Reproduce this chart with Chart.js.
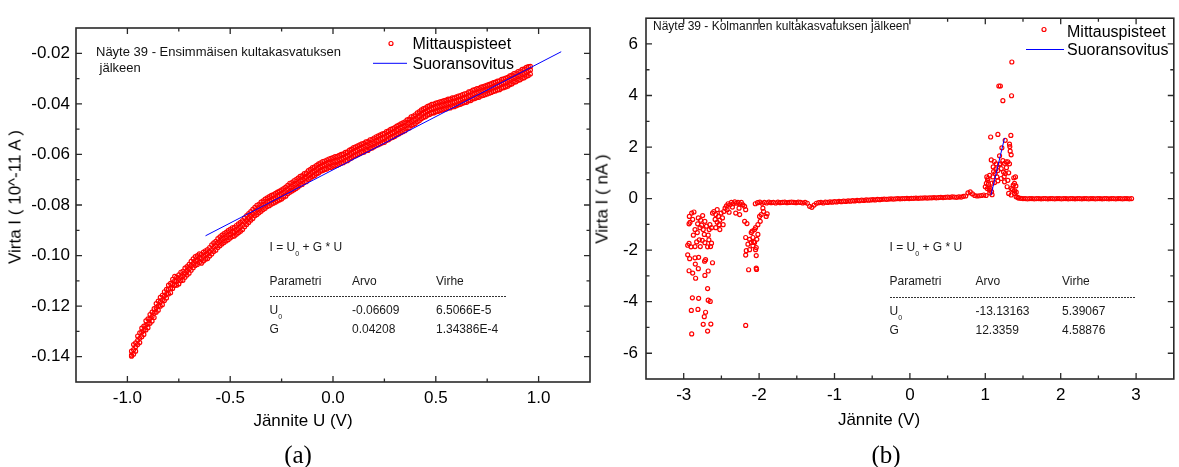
<!DOCTYPE html>
<html lang="fi">
<head>
<meta charset="utf-8">
<title>Virta–jännite -mittaukset</title>
<script src="https://cdn.jsdelivr.net/npm/chart.js@4.4.1/dist/chart.umd.min.js"></script>
<style>
  html,body{margin:0;padding:0;background:#fff;}
  body{position:relative;width:1179px;height:467px;overflow:hidden;font-family:"Liberation Sans",Arial,sans-serif;color:#000;}
  canvas{position:absolute;top:0;}
  #ca{left:0;}
  #cb{left:600px;}
  .t{position:absolute;white-space:nowrap;line-height:1;}
  .c{transform:translate(-50%,-50%);}
  .v{transform:translate(-50%,-50%) rotate(-90deg);}
  .ax{font-size:17px;}
  .cap{font-family:"Liberation Serif",serif;font-size:25px;}
  .fit{font-size:12px;color:#1a1a1a;transform:translateY(-50%);}
  .fit sub{font-size:7px;vertical-align:-5px;line-height:0;}
  .dash{position:absolute;height:1px;background:repeating-linear-gradient(to right,#333 0 2px,transparent 2px 3px);}
  .note{position:absolute;white-space:nowrap;color:#111;}
</style>
</head>
<body>
<canvas id="ca" width="600" height="467"></canvas>
<canvas id="cb" width="579" height="467"></canvas>

<div class="t ax c" style="left:303px;top:420px">Jännite U (V)</div>
<div class="t ax v" style="left:15px;top:197px">Virta I ( 10^-11 A )</div>
<div class="t ax c" style="left:879px;top:419px">Jännite (V)</div>
<div class="t ax v" style="left:602px;top:199px">Virta I ( nA )</div>
<div class="t cap c" style="left:298px;top:454px">(a)</div>
<div class="t cap c" style="left:886px;top:454px">(b)</div>

<div class="note" style="left:96px;top:44px;font-size:13px;line-height:16px">Näyte 39 - Ensimmäisen kultakasvatuksen<br>&nbsp;jälkeen</div>
<div class="note" style="left:653px;top:19px;font-size:12px;line-height:14px">Näyte 39 - Kolmannen kultakasvatuksen jälkeen</div>

<div id="fitA"></div>
<div id="fitB"></div>

<script>
// ---- Panel (a): first gold growth ----
const uA = [
  -0.98,-0.97,-0.96,-0.95,-0.94,-0.93,-0.92,-0.91,-0.90,-0.89,
  -0.88,-0.87,-0.86,-0.85,-0.84,-0.83,-0.82,-0.81,-0.80,-0.79,
  -0.78,-0.77,-0.76,-0.75,-0.74,-0.73,-0.72,-0.71,-0.70,-0.69,
  -0.68,-0.67,-0.66,-0.65,-0.64,-0.63,-0.62,-0.61,-0.60,-0.59,
  -0.58,-0.57,-0.56,-0.55,-0.54,-0.53,-0.52,-0.51,-0.50,-0.49,
  -0.48,-0.47,-0.46,-0.45,-0.44,-0.43,-0.42,-0.41,-0.40,-0.39,
  -0.38,-0.37,-0.36,-0.35,-0.34,-0.33,-0.32,-0.31,-0.30,-0.29,
  -0.28,-0.27,-0.26,-0.25,-0.24,-0.23,-0.22,-0.21,-0.20,-0.19,
  -0.18,-0.17,-0.16,-0.15,-0.14,-0.13,-0.12,-0.11,-0.10,-0.09,
  -0.08,-0.07,-0.06,-0.05,-0.04,-0.03,-0.02,-0.01,0.00,0.01,
  0.02,0.03,0.04,0.05,0.06,0.07,0.08,0.09,0.10,0.11,
  0.12,0.13,0.14,0.15,0.16,0.17,0.18,0.19,0.20,0.21,
  0.22,0.23,0.24,0.25,0.26,0.27,0.28,0.29,0.30,0.31,
  0.32,0.33,0.34,0.35,0.36,0.37,0.38,0.39,0.40,0.41,
  0.42,0.43,0.44,0.45,0.46,0.47,0.48,0.49,0.50,0.51,
  0.52,0.53,0.54,0.55,0.56,0.57,0.58,0.59,0.60,0.61,
  0.62,0.63,0.64,0.65,0.66,0.67,0.68,0.69,0.70,0.71,
  0.72,0.73,0.74,0.75,0.76,0.77,0.78,0.79,0.80,0.81,
  0.82,0.83,0.84,0.85,0.86,0.87,0.88,0.89,0.90,0.91,
  0.92,0.93,0.94,0.95,0.96
];
// middle of the measured band
const iA = [
  -0.1394,-0.1372,-0.1361,-0.1335,-0.1327,-0.1303,-0.1296,-0.1276,-0.1270,-0.1249,
  -0.1241,-0.1228,-0.1206,-0.1199,-0.1183,-0.1176,-0.1160,-0.1152,-0.1134,-0.1130,
  -0.1112,-0.1100,-0.1101,-0.1094,-0.1083,-0.1081,-0.1068,-0.1060,-0.1053,-0.1040,
  -0.1031,-0.1021,-0.1018,-0.1010,-0.1012,-0.1003,-0.0998,-0.0994,-0.0985,-0.0976,
  -0.0967,-0.0962,-0.0950,-0.0944,-0.0936,-0.0931,-0.0925,-0.0919,-0.0914,-0.0907,
  -0.0906,-0.0898,-0.0893,-0.0886,-0.0880,-0.0868,-0.0860,-0.0851,-0.0843,-0.0835,
  -0.0826,-0.0820,-0.0814,-0.0807,-0.0801,-0.0795,-0.0789,-0.0785,-0.0780,-0.0776,
  -0.0772,-0.0766,-0.0763,-0.0758,-0.0752,-0.0747,-0.0739,-0.0732,-0.0728,-0.0722,
  -0.0718,-0.0711,-0.0705,-0.0701,-0.0694,-0.0690,-0.0682,-0.0676,-0.0670,-0.0666,
  -0.0660,-0.0655,-0.0650,-0.0646,-0.0643,-0.0640,-0.0635,-0.0634,-0.0630,-0.0627,
  -0.0626,-0.0621,-0.0618,-0.0615,-0.0610,-0.0607,-0.0601,-0.0596,-0.0591,-0.0587,
  -0.0584,-0.0579,-0.0576,-0.0573,-0.0568,-0.0566,-0.0560,-0.0557,-0.0553,-0.0547,
  -0.0545,-0.0540,-0.0537,-0.0534,-0.0528,-0.0524,-0.0519,-0.0515,-0.0512,-0.0505,
  -0.0502,-0.0496,-0.0493,-0.0488,-0.0481,-0.0477,-0.0469,-0.0465,-0.0461,-0.0453,
  -0.0449,-0.0441,-0.0437,-0.0433,-0.0428,-0.0424,-0.0420,-0.0418,-0.0415,-0.0412,
  -0.0410,-0.0407,-0.0405,-0.0402,-0.0399,-0.0398,-0.0394,-0.0393,-0.0390,-0.0386,
  -0.0385,-0.0380,-0.0378,-0.0376,-0.0371,-0.0369,-0.0364,-0.0361,-0.0358,-0.0356,
  -0.0352,-0.0349,-0.0347,-0.0343,-0.0341,-0.0337,-0.0334,-0.0331,-0.0328,-0.0326,
  -0.0321,-0.0318,-0.0316,-0.0312,-0.0307,-0.0303,-0.0298,-0.0295,-0.0290,-0.0287,
  -0.0282,-0.0279,-0.0274,-0.0270,-0.0266
];
// upper readings of the band
const iAup = [
  -0.1378,-0.1352,-0.1345,-0.1318,-0.1306,-0.1287,-0.1279,-0.1258,-0.1250,-0.1233,
  -0.1224,-0.1210,-0.1190,-0.1180,-0.1165,-0.1157,-0.1143,-0.1134,-0.1117,-0.1110,
  -0.1094,-0.1082,-0.1085,-0.1076,-0.1066,-0.1062,-0.1050,-0.1044,-0.1035,-0.1023,
  -0.1013,-0.1004,-0.1000,-0.0993,-0.0995,-0.0986,-0.0981,-0.0976,-0.0968,-0.0958,
  -0.0950,-0.0944,-0.0933,-0.0926,-0.0919,-0.0913,-0.0908,-0.0901,-0.0896,-0.0890,
  -0.0888,-0.0881,-0.0875,-0.0869,-0.0862,-0.0851,-0.0842,-0.0834,-0.0826,-0.0817,
  -0.0809,-0.0801,-0.0797,-0.0789,-0.0784,-0.0777,-0.0772,-0.0767,-0.0762,-0.0759,
  -0.0754,-0.0749,-0.0745,-0.0740,-0.0735,-0.0729,-0.0722,-0.0714,-0.0711,-0.0704,
  -0.0700,-0.0694,-0.0687,-0.0684,-0.0676,-0.0673,-0.0664,-0.0659,-0.0652,-0.0649,
  -0.0643,-0.0637,-0.0633,-0.0628,-0.0626,-0.0622,-0.0618,-0.0616,-0.0613,-0.0609,
  -0.0608,-0.0604,-0.0600,-0.0598,-0.0592,-0.0590,-0.0583,-0.0579,-0.0573,-0.0570,
  -0.0566,-0.0562,-0.0558,-0.0556,-0.0550,-0.0549,-0.0542,-0.0540,-0.0535,-0.0530,
  -0.0527,-0.0523,-0.0519,-0.0517,-0.0510,-0.0507,-0.0501,-0.0498,-0.0494,-0.0488,
  -0.0484,-0.0479,-0.0475,-0.0471,-0.0463,-0.0460,-0.0451,-0.0448,-0.0443,-0.0436,
  -0.0431,-0.0424,-0.0419,-0.0416,-0.0410,-0.0407,-0.0402,-0.0401,-0.0397,-0.0395,
  -0.0392,-0.0390,-0.0387,-0.0385,-0.0381,-0.0381,-0.0376,-0.0376,-0.0372,-0.0369,
  -0.0367,-0.0363,-0.0360,-0.0359,-0.0353,-0.0352,-0.0346,-0.0344,-0.0340,-0.0339,
  -0.0334,-0.0332,-0.0329,-0.0326,-0.0323,-0.0320,-0.0316,-0.0314,-0.0310,-0.0309,
  -0.0303,-0.0301,-0.0298,-0.0295,-0.0289,-0.0286,-0.0280,-0.0278,-0.0272,-0.0270,
  -0.0264,-0.0262,-0.0256,-0.0253,-0.0252
];
// lower readings of the band
const iAlo = [
  -0.1398,-0.1390,-0.1378,-0.1352,-0.1344,-0.1321,-0.1312,-0.1294,-0.1285,-0.1268,
  -0.1259,-0.1245,-0.1224,-0.1216,-0.1200,-0.1194,-0.1178,-0.1168,-0.1152,-0.1147,
  -0.1130,-0.1118,-0.1117,-0.1112,-0.1100,-0.1098,-0.1086,-0.1077,-0.1070,-0.1058,
  -0.1048,-0.1039,-0.1035,-0.1027,-0.1030,-0.1021,-0.1015,-0.1012,-0.1002,-0.0994,
  -0.0984,-0.0979,-0.0968,-0.0961,-0.0954,-0.0948,-0.0942,-0.0937,-0.0931,-0.0925,
  -0.0923,-0.0916,-0.0910,-0.0904,-0.0897,-0.0886,-0.0877,-0.0869,-0.0860,-0.0853,
  -0.0843,-0.0838,-0.0831,-0.0825,-0.0818,-0.0813,-0.0806,-0.0803,-0.0797,-0.0793,
  -0.0789,-0.0784,-0.0780,-0.0776,-0.0769,-0.0765,-0.0756,-0.0750,-0.0745,-0.0740,
  -0.0735,-0.0729,-0.0722,-0.0719,-0.0711,-0.0708,-0.0699,-0.0694,-0.0687,-0.0684,
  -0.0677,-0.0673,-0.0667,-0.0664,-0.0660,-0.0658,-0.0652,-0.0652,-0.0647,-0.0645,
  -0.0643,-0.0639,-0.0635,-0.0633,-0.0627,-0.0625,-0.0618,-0.0614,-0.0608,-0.0605,
  -0.0601,-0.0597,-0.0593,-0.0591,-0.0585,-0.0584,-0.0577,-0.0575,-0.0570,-0.0565,
  -0.0562,-0.0558,-0.0554,-0.0552,-0.0545,-0.0542,-0.0536,-0.0533,-0.0529,-0.0523,
  -0.0519,-0.0514,-0.0510,-0.0506,-0.0498,-0.0495,-0.0486,-0.0483,-0.0478,-0.0471,
  -0.0466,-0.0459,-0.0454,-0.0451,-0.0445,-0.0442,-0.0437,-0.0436,-0.0432,-0.0430,
  -0.0427,-0.0425,-0.0422,-0.0420,-0.0416,-0.0416,-0.0411,-0.0411,-0.0407,-0.0404,
  -0.0402,-0.0398,-0.0395,-0.0394,-0.0388,-0.0387,-0.0381,-0.0379,-0.0375,-0.0374,
  -0.0369,-0.0367,-0.0364,-0.0361,-0.0358,-0.0355,-0.0351,-0.0349,-0.0345,-0.0344,
  -0.0338,-0.0336,-0.0333,-0.0330,-0.0324,-0.0321,-0.0315,-0.0313,-0.0307,-0.0305,
  -0.0299,-0.0297,-0.0291,-0.0288,-0.0282
];
const fitParamsA = [-0.06609, 0.04208];          // U0, G
const fitErrorsA = ['6.5066E-5', '1.34386E-4'];
const fitSpanA = [-0.62, 1.11];
const xTicksA = [-1.0, -0.5, 0.0, 0.5, 1.0];
const xMinorA = [-0.75, -0.25, 0.25, 0.75];
const yTicksA = [-0.14, -0.12, -0.10, -0.08, -0.06, -0.04, -0.02];
const yMinorA = [-0.13, -0.11, -0.09, -0.07, -0.05, -0.03];

// ---- Panel (b): third gold growth ----
const uFlatL = [
  -2.05,-2.02,-1.99,-1.96,-1.93,-1.90,-1.87,-1.84,-1.81,-1.78,
  -1.75,-1.72,-1.69,-1.66,-1.63,-1.60,-1.57,-1.54,-1.51,-1.48,
  -1.45,-1.42,-1.39,-1.36,-1.33,-1.30,-1.27,-1.24,-1.21,-1.18,
  -1.15,-1.12,-1.09,-1.06,-1.03,-1.00,-0.97,-0.94,-0.91,-0.88,
  -0.85,-0.82,-0.79,-0.76,-0.73,-0.70,-0.67,-0.64,-0.61,-0.58,
  -0.55,-0.52,-0.49,-0.46,-0.43,-0.40,-0.37,-0.34,-0.31,-0.28,
  -0.25,-0.22,-0.19,-0.16,-0.13,-0.10,-0.07,-0.04,-0.01,0.02,
  0.05,0.08,0.11,0.14,0.17,0.20,0.23,0.26,0.29,0.32,
  0.35,0.38,0.41,0.44,0.47,0.50,0.53,0.56,0.59,0.62,
  0.65,0.68,0.71,0.74,0.77,0.80,0.83,0.86,0.89,0.92,
  0.95,0.98,1.01
];
const iFlatL = [
  -0.20,-0.16,-0.14,-0.18,-0.15,-0.17,-0.14,-0.16,-0.15,-0.17,
  -0.14,-0.16,-0.15,-0.14,-0.16,-0.15,-0.14,-0.15,-0.16,-0.14,
  -0.15,-0.17,-0.15,-0.18,-0.30,-0.34,-0.25,-0.18,-0.16,-0.15,
  -0.17,-0.14,-0.15,-0.13,-0.14,-0.12,-0.13,-0.11,-0.12,-0.10,
  -0.11,-0.09,-0.10,-0.08,-0.09,-0.07,-0.08,-0.06,-0.07,-0.05,
  -0.06,-0.05,-0.04,-0.05,-0.03,-0.04,-0.03,-0.02,-0.03,-0.02,
  -0.01,-0.02,-0.01,0.00,-0.01,0.00,0.00,0.01,0.00,0.01,
  0.01,0.02,0.01,0.02,0.02,0.03,0.02,0.03,0.03,0.04,
  0.03,0.04,0.05,0.04,0.05,0.06,0.05,0.07,0.06,0.05,
  0.07,0.06,0.09,0.10,0.22,0.26,0.18,0.12,0.10,0.11,
  0.12,0.14,0.12
];
const uFlatR = [
  1.44,1.47,1.50,1.53,1.56,1.59,1.62,1.65,1.68,1.71,
  1.74,1.77,1.80,1.83,1.86,1.89,1.92,1.95,1.98,2.01,
  2.04,2.07,2.10,2.13,2.16,2.19,2.22,2.25,2.28,2.31,
  2.34,2.37,2.40,2.43,2.46,2.49,2.52,2.55,2.58,2.61,
  2.64,2.67,2.70,2.73,2.76,2.79,2.82,2.85,2.88,2.91,
  2.94
];
const iFlatR = [
  0.02,0.01,0.00,0.00,-0.01,0.00,0.00,-0.01,0.00,0.00,
  -0.01,0.00,0.00,-0.01,0.00,0.00,-0.01,0.00,0.00,-0.01,
  0.00,0.00,-0.01,0.00,0.00,-0.01,0.00,0.00,-0.01,0.00,
  0.00,-0.01,0.00,0.00,-0.01,0.00,0.00,-0.01,0.00,0.00,
  -0.01,0.00,0.00,-0.01,0.00,0.00,-0.01,0.00,0.00,-0.01,
  0.00
];
// scattered readings at the negative end
const uScat = [
  -2.894,-2.864,-2.929,-2.916,-2.749,-2.815,-2.763,-2.784,-2.850,-2.741,
  -2.820,-2.727,-2.872,-2.675,-2.793,-2.754,-2.828,-2.666,-2.631,-2.947,
  -2.929,-2.903,-2.850,-2.780,-2.719,-2.683,-2.644,-2.947,-2.921,-2.850,
  -2.802,-2.710,-2.723,-2.846,-2.618,-2.929,-2.881,-2.806,-2.675,-2.842,
  -2.719,-2.683,-2.885,-2.802,-2.675,-2.648,-2.899,-2.811,-2.710,-2.727,
  -2.741,-2.640,-2.894,-2.683,-2.925,-2.881,-2.806,-2.776,-2.719,-2.697,
  -2.653,-2.631,-2.662,
  -2.618,-2.600,-2.574,-2.556,-2.539,-2.521,-2.504,-2.530,-2.486,-2.583,
  -2.556,-2.468,-2.451,-2.433,-2.411,-2.389,-2.367,-2.345,-2.323,-2.301,
  -2.280,-2.258,-2.236,-2.214,-2.424,-2.398,-2.354,-2.310,-2.266,-2.258,
  -2.192,-2.178,-2.521,-2.477,-2.574,
  -2.192,-2.161,-2.178,-2.126,-2.104,-2.082,-2.060,-2.038,-2.038,-2.047,
  -2.082,-2.126,-2.170,-2.178,-2.139,-2.038,-2.034,-2.016,-2.016,-2.060,
  -1.994,-1.972,-1.950,-1.906,-1.893,-2.178,-2.104,-2.148,-2.073,-2.091,
  -2.030,-1.985,-1.941,-2.047
];
const iScat = [
  -0.56,-0.52,-0.98,-0.92,-0.66,-0.98,-1.03,-1.13,-1.20,-1.20,
  -1.32,-1.39,-1.42,-1.42,-1.60,-1.62,-1.68,-1.60,-1.73,-1.81,
  -1.74,-1.87,-1.86,-1.86,-1.71,-1.87,-1.86,-2.18,-2.33,-2.30,
  -2.28,-2.37,-2.43,-2.54,-2.49,-2.80,-2.89,-2.72,-2.81,-3.09,
  -2.98,-3.49,-3.85,-3.87,-3.94,-3.99,-4.34,-4.30,-4.41,-4.58,
  -4.88,-4.87,-5.25,-5.14,-0.69,-0.81,-0.75,-0.84,-0.88,-1.07,
  -1.01,-1.13,-1.20,
  -0.56,-0.50,-0.62,-0.43,-0.69,-0.84,-0.56,-1.01,-0.75,-0.81,
  -0.92,-0.50,-0.37,-0.28,-0.20,-0.24,-0.15,-0.20,-0.13,-0.18,
  -0.15,-0.20,-0.15,-0.24,-0.43,-0.53,-0.33,-0.56,-0.37,-0.62,
  -0.30,-0.43,-1.20,-1.01,-1.13,
  -0.88,-0.97,-1.51,-1.58,-1.32,-1.51,-1.70,-1.90,-2.21,-1.98,
  -1.83,-1.98,-2.02,-2.19,-2.76,-2.70,-2.75,-1.39,-1.01,-1.20,
  -0.69,-0.62,-0.37,-0.69,-0.59,-4.92,-1.70,-1.77,-1.68,-1.26,
  -1.58,-0.88,-0.50,-1.13
];
// readings around the peak near +1.2 V
const uPeak = [
  1.180,1.200,1.233,1.348,1.352,1.071,1.167,1.339,1.264,1.321,
  1.325,1.220,1.330,1.343,1.079,1.189,1.119,1.233,1.277,1.255,
  1.299,1.321,1.145,1.189,1.211,1.242,1.264,1.167,1.132,1.154,
  1.101,1.057,1.035,1.014,1.000,1.026,1.070,1.057,1.083,1.123,
  1.167,1.211,1.255,1.299,1.290,1.343,1.370,1.387,1.405,1.378,
  1.400,1.310,1.343,1.387,1.409,1.431,1.105,1.200,1.020,1.030,
  1.040,1.050,1.090,1.110,1.140,1.250,1.280,1.310,1.360,1.390,
  1.410,1.060,1.090
];
const iPeak = [
  4.37,4.37,3.80,3.99,5.30,2.39,2.49,2.45,2.26,2.11,
  2.02,1.97,1.84,1.70,1.50,1.66,1.44,1.47,1.43,1.37,
  1.43,1.35,1.35,1.32,1.16,1.03,0.97,1.09,0.97,0.84,
  0.84,0.90,0.78,0.59,0.46,0.39,0.39,0.33,0.27,0.62,
  0.69,0.78,0.65,0.71,0.46,0.39,0.52,0.59,0.49,0.81,
  0.84,0.20,0.14,0.20,0.07,0.05,1.23,1.35,0.84,0.71,
  0.55,0.45,0.60,1.05,1.15,0.85,1.20,1.00,0.35,0.30,
  0.25,0.22,0.15
];
const fitParamsB = [-13.13163, 12.3359];         // U0, G
const fitErrorsB = ['5.39067', '4.58876'];
const fitSpanB = [1.075, 1.255];
const xTicksB = [-3, -2, -1, 0, 1, 2, 3];
const xMinorB = [-2.5, -1.5, -0.5, 0.5, 1.5, 2.5];
const yTicksB = [-6, -4, -2, 0, 2, 4, 6];
const yMinorB = [-5, -3, -1, 1, 3, 5];

const FONT = '"Liberation Sans", Arial, sans-serif';
const pts = (us, is) => us.map((u, k) => ({ x: u, y: is[k] }));
const fitLine = (p, span) => span.map(u => ({ x: u, y: p[0] + p[1] * u }));

// Origin-style box with inward ticks on all four sides
const framePlugin = {
  id: 'frame',
  afterDraw(chart, args, o) {
    const { ctx, chartArea: a, scales: { x, y } } = chart;
    ctx.save();
    ctx.strokeStyle = '#2a2a2a';
    ctx.lineWidth = 1.6;
    ctx.strokeRect(a.left, a.top, a.right - a.left, a.bottom - a.top);
    ctx.lineWidth = 1.3;
    ctx.beginPath();
    const xt = (vals, len) => vals.forEach(v => {
      const px = x.getPixelForValue(v);
      ctx.moveTo(px, a.bottom); ctx.lineTo(px, a.bottom - len);
      ctx.moveTo(px, a.top); ctx.lineTo(px, a.top + len);
    });
    const yt = (vals, len) => vals.forEach(v => {
      const py = y.getPixelForValue(v);
      ctx.moveTo(a.left, py); ctx.lineTo(a.left + len, py);
      ctx.moveTo(a.right, py); ctx.lineTo(a.right - len, py);
    });
    xt(o.xMajor, 6); xt(o.xMinor, 3.5);
    yt(o.yMajor, 6); yt(o.yMinor, 3.5);
    ctx.stroke();
    ctx.restore();
  }
};

// Legend box placed inside the plot frame
const keyPlugin = {
  id: 'key',
  afterDraw(chart, args, o) {
    const ctx = chart.ctx;
    ctx.save();
    ctx.font = '16px ' + FONT;
    ctx.fillStyle = '#000';
    ctx.textBaseline = 'alphabetic';
    chart.data.datasets.forEach((ds, k) => {
      const r = o.rows[k];
      if (!r) return;
      if (ds.showLine) {
        ctx.strokeStyle = ds.borderColor; ctx.lineWidth = ds.borderWidth;
        ctx.beginPath(); ctx.moveTo(r.x1, r.y); ctx.lineTo(r.x2, r.y); ctx.stroke();
      } else {
        ctx.strokeStyle = ds.pointBorderColor; ctx.lineWidth = ds.pointBorderWidth;
        ctx.beginPath(); ctx.arc(r.cx, r.y, ds.pointRadius, 0, Math.PI * 2); ctx.stroke();
      }
      ctx.fillText(ds.label, o.textX, r.base);
    });
    ctx.restore();
  }
};

function axis(min, max, ticks, size, isX, pad, fmt) {
  return {
    type: 'linear', min, max,
    afterBuildTicks: s => { s.ticks = ticks.map(v => ({ value: v })); },
    afterFit: s => { if (isX) s.height = size; else s.width = size; },
    grid: { display: false, drawTicks: false },
    border: { display: false },
    ticks: { padding: pad, color: '#000', font: { family: FONT, size: 17 }, callback: fmt }
  };
}

function makeChart(id, sets, xs, ys, pad, frame, key) {
  return new Chart(document.getElementById(id), {
    type: 'scatter',
    data: { datasets: sets },
    options: {
      responsive: false, animation: false, devicePixelRatio: 1, events: [],
      layout: { padding: pad },
      plugins: { legend: { display: false }, tooltip: { enabled: false }, frame, key },
      scales: { x: xs, y: ys }
    },
    plugins: [framePlugin, keyPlugin]
  });
}

const pointStyle = {
  showLine: false, pointStyle: 'circle', pointRadius: 2, pointBorderWidth: 1.2,
  pointBorderColor: '#ff0000', pointBackgroundColor: 'rgba(255,255,255,0)', order: 2
};
const lineStyle = { showLine: true, borderColor: '#0000ff', borderWidth: 1, pointRadius: 0, order: 1 };

makeChart('ca',
  [
    { label: 'Mittauspisteet', data: [...pts(uA, iA), ...pts(uA, iAup), ...pts(uA, iAlo)], ...pointStyle },
    { label: 'Suoransovitus', data: fitLine(fitParamsA, fitSpanA), ...lineStyle }
  ],
  axis(-1.25, 1.25, xTicksA, 85, true, 6, v => v.toFixed(1)),
  axis(-0.15, -0.01, yTicksA, 76, false, 6, v => v.toFixed(2)),
  { top: 28, right: 10, left: 0, bottom: 0 },
  { xMajor: xTicksA, xMinor: xMinorA, yMajor: yTicksA, yMinor: yMinorA },
  { textX: 412.5, rows: [{ cx: 391, y: 43.5, base: 48.5 }, { x1: 373, x2: 407, y: 63.3, base: 68.5 }] }
);

makeChart('cb',
  [
    { label: 'Mittauspisteet', data: [...pts(uFlatL, iFlatL), ...pts(uFlatR, iFlatR), ...pts(uScat, iScat), ...pts(uPeak, iPeak)], ...pointStyle },
    { label: 'Suoransovitus', data: fitLine(fitParamsB, fitSpanB), ...lineStyle }
  ],
  axis(-3.5, 3.5, xTicksB, 88, true, 6, v => String(v)),
  axis(-7, 7, yTicksB, 46, false, 8, v => String(v)),
  { top: 12, right: 2.5, left: 0, bottom: 0 },
  { xMajor: xTicksB, xMinor: xMinorB, yMajor: yTicksB, yMinor: yMinorB },
  { textX: 467, rows: [{ cx: 444, y: 29.5, base: 36.5 }, { x1: 426, x2: 464, y: 49.5, base: 55 }] }
);

// Fit result tables
function fitTable(host, x0, xArvo, xVirhe, yRows, dashEnd, params, errs, digits) {
  const el = document.getElementById(host);
  const put = (html, x, y) => {
    const d = document.createElement('div');
    d.className = 't fit'; d.style.left = x + 'px'; d.style.top = y + 'px';
    d.innerHTML = html; el.appendChild(d);
  };
  put('I = U<sub>0</sub> + G * U', x0, yRows[0]);
  put('Parametri', x0, yRows[1]); put('Arvo', xArvo, yRows[1]); put('Virhe', xVirhe, yRows[1]);
  const dl = document.createElement('div');
  dl.className = 'dash';
  dl.style.left = x0 + 'px'; dl.style.top = yRows[2] + 'px'; dl.style.width = (dashEnd - x0) + 'px';
  el.appendChild(dl);
  put('U<sub>0</sub>', x0, yRows[3]); put(params[0].toFixed(digits[0]), xArvo, yRows[3]); put(errs[0], xVirhe, yRows[3]);
  put('G', x0, yRows[4]); put(params[1].toFixed(digits[1]), xArvo, yRows[4]); put(errs[1], xVirhe, yRows[4]);
}
fitTable('fitA', 269.5, 352, 436, [246.5, 281, 295.5, 310, 329], 507, fitParamsA, fitErrorsA, [5, 5]);
fitTable('fitB', 889.5, 975.5, 1062, [246.5, 281, 296.5, 311, 329.5], 1136, fitParamsB, fitErrorsB, [5, 4]);
</script>
</body>
</html>
